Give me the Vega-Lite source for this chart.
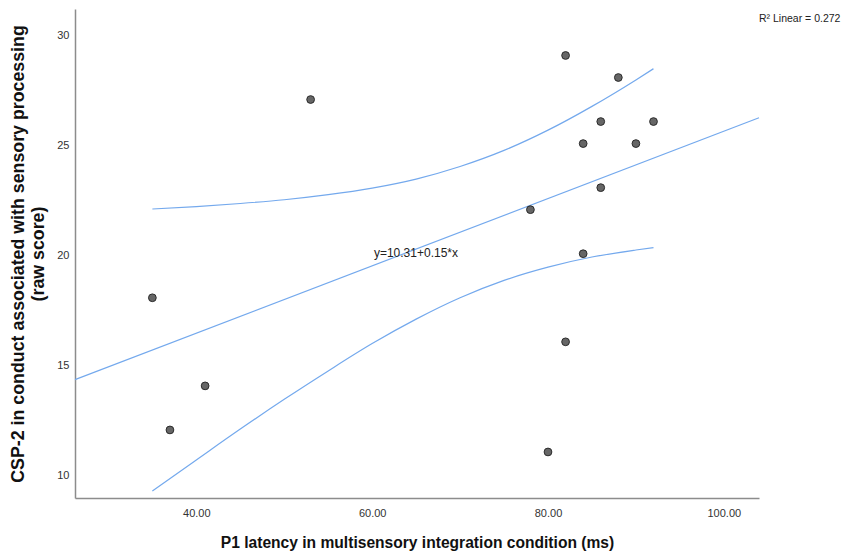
{
  "$schema": "https://vega.github.io/schema/vega-lite/v6.json",
  "width": 684,
  "height": 489,
  "autosize": {"type": "none"},
  "padding": {"left": 75, "top": 9, "right": 87, "bottom": 58},
  "background": "white",
  "config": {
    "view": {"stroke": null},
    "font": "Liberation Sans",
    "axis": {
      "grid": false,
      "ticks": false,
      "domainColor": "#8c8c8c",
      "domainWidth": 1.5,
      "labelColor": "#333333",
      "labelFontSize": 11,
      "labelFont": "Liberation Sans",
      "titleFont": "Liberation Sans",
      "titleFontWeight": "bold",
      "titleColor": "#111111"
    }
  },
  "datasets": {
    "points": [
      {"x": 35, "y": 18}, {"x": 37, "y": 12}, {"x": 41, "y": 14}, {"x": 53, "y": 27},
      {"x": 82, "y": 29}, {"x": 88, "y": 28}, {"x": 86, "y": 26}, {"x": 92, "y": 26},
      {"x": 84, "y": 25}, {"x": 90, "y": 25}, {"x": 86, "y": 23}, {"x": 78, "y": 22},
      {"x": 84, "y": 20}, {"x": 82, "y": 16}, {"x": 80, "y": 11}
    ],
    "ci": [
      {"x": 35, "y": 22.03, "band": "upper"}, {"x": 40, "y": 22.14, "band": "upper"},
      {"x": 45, "y": 22.28, "band": "upper"}, {"x": 50, "y": 22.45, "band": "upper"},
      {"x": 55, "y": 22.68, "band": "upper"}, {"x": 60, "y": 22.98, "band": "upper"},
      {"x": 65, "y": 23.39, "band": "upper"}, {"x": 70, "y": 23.96, "band": "upper"},
      {"x": 75, "y": 24.69, "band": "upper"}, {"x": 80, "y": 25.61, "band": "upper"},
      {"x": 85, "y": 26.69, "band": "upper"}, {"x": 90, "y": 27.89, "band": "upper"},
      {"x": 92, "y": 28.40, "band": "upper"},
      {"x": 35, "y": 9.23, "band": "lower"}, {"x": 40, "y": 10.64, "band": "lower"},
      {"x": 45, "y": 12.04, "band": "lower"}, {"x": 50, "y": 13.39, "band": "lower"},
      {"x": 55, "y": 14.68, "band": "lower"}, {"x": 60, "y": 15.92, "band": "lower"},
      {"x": 65, "y": 17.03, "band": "lower"}, {"x": 70, "y": 18.00, "band": "lower"},
      {"x": 75, "y": 18.79, "band": "lower"}, {"x": 80, "y": 19.39, "band": "lower"},
      {"x": 85, "y": 19.85, "band": "lower"}, {"x": 90, "y": 20.17, "band": "lower"},
      {"x": 92, "y": 20.28, "band": "lower"}
    ],
    "notes": [
      {"x": 60.2, "y": 20.05, "label": "y=10.31+0.15*x", "kind": "eq"},
      {"x": 104.0, "y": 30.66, "label": "R² Linear = 0.272", "kind": "r2"}
    ]
  },
  "layer": [
    {
      "data": {"name": "ci"},
      "mark": {"type": "line", "color": "#74a9ed", "strokeWidth": 1.2, "interpolate": "monotone"},
      "encoding": {
        "x": {"field": "x", "type": "quantitative", "scale": {"domain": [26.2, 104.0], "nice": false, "zero": false},
              "axis": {"values": [40, 60, 80, 100], "format": ".2f", "labelPadding": 9, "titlePadding": 17, "titleFontSize": 15.6,
                       "title": "P1 latency in multisensory integration condition (ms)"}},
        "y": {"field": "y", "type": "quantitative", "scale": {"domain": [8.91, 31.11], "nice": false, "zero": false},
              "axis": {"values": [10, 15, 20, 25, 30], "labelPadding": 6, "labelOffset": 2, "titlePadding": 9, "titleFontSize": 17.8,
                       "title": ["CSP-2 in conduct associated with sensory processing", "(raw score)"]}},
        "detail": {"field": "band"}
      }
    },
    {
      "data": {"name": "points"},
      "transform": [{"regression": "y", "on": "x", "extent": [26.2, 104.0]}],
      "mark": {"type": "line", "color": "#74a9ed", "strokeWidth": 1.2},
      "encoding": {
        "x": {"field": "x", "type": "quantitative"},
        "y": {"field": "y", "type": "quantitative"}
      }
    },
    {
      "data": {"name": "points"},
      "mark": {"type": "point", "filled": true, "shape": "circle", "size": 60, "fill": "#666666", "stroke": "#2b2b2b", "strokeWidth": 1, "opacity": 1},
      "encoding": {
        "x": {"field": "x", "type": "quantitative"},
        "y": {"field": "y", "type": "quantitative"}
      }
    },
    {
      "data": {"name": "notes"},
      "transform": [{"filter": "datum.kind === 'eq'"}],
      "mark": {"type": "text", "align": "left", "baseline": "middle", "fontSize": 12, "color": "#222222"},
      "encoding": {
        "x": {"field": "x", "type": "quantitative"},
        "y": {"field": "y", "type": "quantitative"},
        "text": {"field": "label"}
      }
    },
    {
      "data": {"name": "notes"},
      "transform": [{"filter": "datum.kind === 'r2'"}],
      "mark": {"type": "text", "align": "left", "baseline": "middle", "fontSize": 10.5, "color": "#222222", "clip": false},
      "encoding": {
        "x": {"field": "x", "type": "quantitative"},
        "y": {"field": "y", "type": "quantitative"},
        "text": {"field": "label"}
      }
    }
  ]
}
